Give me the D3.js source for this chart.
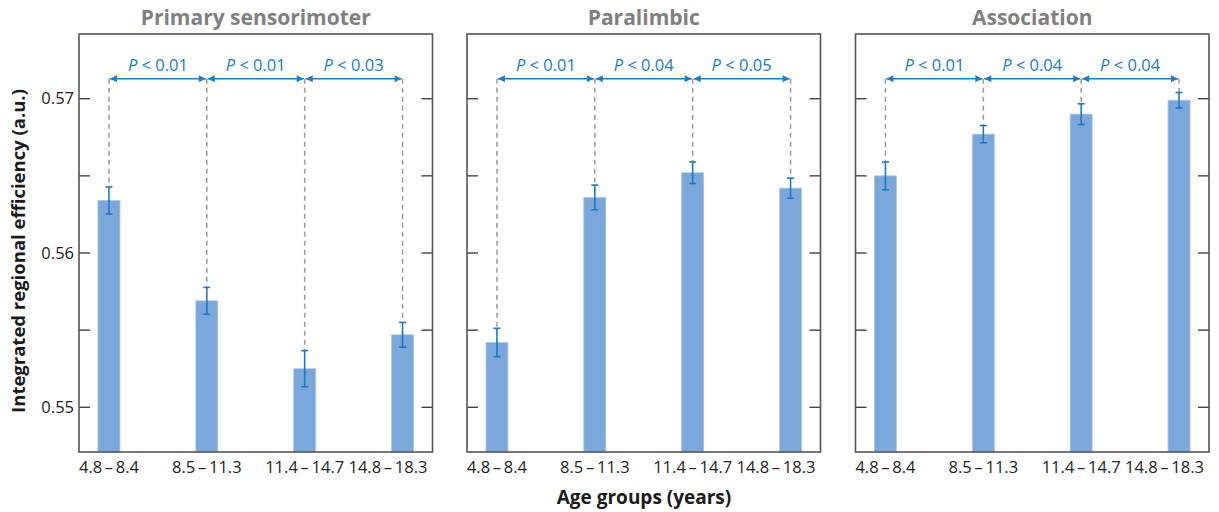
<!DOCTYPE html>
<html><head><meta charset="utf-8">
<script src="https://cdn.jsdelivr.net/npm/d3@7/dist/d3.min.js"></script>
<style>body{margin:0;background:#fff;} text{font-family:"Open Sans","Noto Sans",sans-serif;}</style>
</head><body>
<svg id="chart" width="1219" height="512"></svg>
<script>
const categories = ["4.8\u2009\u2013\u20098.4", "8.5\u2009\u2013\u200911.3", "11.4\u2009\u2013\u200914.7", "14.8\u2009\u2013\u200918.3"];
const panelTitles = ["Primary sensorimoter", "Paralimbic", "Association"];
const primaryValues = [0.5634, 0.5569, 0.5525, 0.5547];
const primaryErrors = [0.00088, 0.00087, 0.00117, 0.0008];
const paralimbicValues = [0.5542, 0.5636, 0.5652, 0.5642];
const paralimbicErrors = [0.00092, 0.0008, 0.0007, 0.00065];
const associationValues = [0.5650, 0.5677, 0.5690, 0.5699];
const associationErrors = [0.0009, 0.00056, 0.00067, 0.0005];
const primaryP = ["P < 0.01", "P < 0.01", "P < 0.03"];
const paralimbicP = ["P < 0.01", "P < 0.04", "P < 0.05"];
const associationP = ["P < 0.01", "P < 0.04", "P < 0.04"];
const yTicks = [0.55, 0.555, 0.56, 0.565, 0.57];
const yTickLabels = ["0.55", "", "0.56", "", "0.57"];
const yLabel = "Integrated regional efficiency (a.u.)";
const xLabel = "Age groups (years)";

const panels = [
  {title: panelTitles[0], values: primaryValues, errors: primaryErrors, p: primaryP},
  {title: panelTitles[1], values: paralimbicValues, errors: paralimbicErrors, p: paralimbicP},
  {title: panelTitles[2], values: associationValues, errors: associationErrors, p: associationP}
];

const svg = d3.select("#chart");
const panelLefts = [79, 467, 855.5];
const pw = 353.5, plotTop = 34, plotBottom = 452;
const y = d3.scaleLinear().domain([0.55, 0.57]).range([407.3, 98.7]);
const barW = 22;
const arrowY = 78.7;
const barColor = "#7ba7da", errColor = "#1f78c2", arrowColor = "#1b7bc6";

const defs = svg.append("defs");
defs.append("marker").attr("id","ah").attr("viewBox","0 0 10 10").attr("refX",10).attr("refY",5)
  .attr("markerWidth",9).attr("markerHeight",7).attr("markerUnits","userSpaceOnUse").attr("orient","auto-start-reverse")
  .append("path").attr("d","M0,0L10,5L0,10Z").attr("fill",arrowColor);

panels.forEach((p, i) => {
  const g = svg.append("g").attr("transform", `translate(${panelLefts[i]},0)`);
  const x = d3.scalePoint().domain(categories).range([0, pw]).padding(0.306);

  g.selectAll("rect.bar").data(p.values).join("rect").attr("class","bar")
    .attr("x", (d, j) => x(categories[j]) - barW/2).attr("width", barW)
    .attr("y", d => y(d)).attr("height", d => plotBottom - y(d))
    .attr("fill", barColor).attr("stroke", "#a9c6ea").attr("stroke-width", 0.8);

  g.selectAll("line.guide").data(p.values).join("line").attr("class","guide")
    .attr("x1", (d, j) => x(categories[j])).attr("x2", (d, j) => x(categories[j]))
    .attr("y1", arrowY).attr("y2", (d, j) => y(d + p.errors[j]))
    .attr("stroke", "#9a9a9a").attr("stroke-width", 1.5).attr("stroke-dasharray", "5,4");

  p.values.forEach((d, j) => {
    const cx = x(categories[j]);
    const eg = g.append("g").attr("stroke", errColor).attr("stroke-width", 1.6);
    eg.append("line").attr("x1", cx).attr("x2", cx).attr("y1", y(d + p.errors[j])).attr("y2", y(d - p.errors[j]));
    eg.append("line").attr("x1", cx - 3.5).attr("x2", cx + 3.5).attr("y1", y(d + p.errors[j])).attr("y2", y(d + p.errors[j]));
    eg.append("line").attr("x1", cx - 3.5).attr("x2", cx + 3.5).attr("y1", y(d - p.errors[j])).attr("y2", y(d - p.errors[j]));
  });

  p.p.forEach((lab, j) => {
    const x1 = x(categories[j]), x2 = x(categories[j+1]);
    g.append("line").attr("x1", x1 + 1).attr("x2", x2 - 1).attr("y1", arrowY).attr("y2", arrowY)
      .attr("stroke", arrowColor).attr("stroke-width", 1.6)
      .attr("marker-start", "url(#ah)").attr("marker-end", "url(#ah)");
    const t = g.append("text").attr("x", (x1 + x2)/2).attr("y", 71).attr("text-anchor", "middle")
      .attr("fill", arrowColor).attr("font-size", 16.5);
    const parts = lab.split(" ");
    t.append("tspan").attr("font-style", "italic").text(parts[0]);
    t.append("tspan").text(" " + parts.slice(1).join(" "));
  });

  g.selectAll("line.tl").data(yTicks).join("line").attr("class","tl")
    .attr("x1", 0).attr("x2", 11).attr("y1", d => y(d)).attr("y2", d => y(d))
    .attr("stroke", "#444").attr("stroke-width", 1.4);
  g.selectAll("line.tr").data(yTicks).join("line").attr("class","tr")
    .attr("x1", pw - 11).attr("x2", pw).attr("y1", d => y(d)).attr("y2", d => y(d))
    .attr("stroke", "#444").attr("stroke-width", 1.4);

  g.append("rect").attr("x", 0).attr("y", plotTop).attr("width", pw).attr("height", plotBottom - plotTop)
    .attr("fill", "none").attr("stroke", "#555").attr("stroke-width", 1.6);

  // x tick labels: centred under bars, last one kept inside the frame
  g.selectAll("text.xl").data(categories).join("text").attr("class","xl")
    .attr("x", (d, j) => j === categories.length - 1 ? pw - 5 : x(d))
    .attr("y", 473)
    .attr("text-anchor", (d, j) => j === categories.length - 1 ? "end" : "middle")
    .attr("font-size", 16.5).attr("fill", "#222").text(d => d);

  g.append("text").attr("x", pw/2).attr("y", 25).attr("text-anchor", "middle")
    .attr("font-size", 21).attr("font-weight", "bold").attr("fill", "#808080").text(p.title);

  if (i === 0) {
    g.selectAll("text.yl").data(yTicks).join("text").attr("class","yl")
      .attr("x", -5).attr("y", d => y(d)).attr("dy", "0.35em").attr("text-anchor", "end")
      .attr("font-size", 16.5).attr("fill", "#222").text((d, k) => yTickLabels[k]);
  }
});

svg.append("text").attr("transform", "translate(25,251) rotate(-90)").attr("text-anchor", "middle")
  .attr("font-size", 18.5).attr("font-weight", "bold").attr("fill", "#1a1a1a").text(yLabel);
svg.append("text").attr("x", 644).attr("y", 504).attr("text-anchor", "middle")
  .attr("font-size", 19).attr("font-weight", "bold").attr("fill", "#1a1a1a").text(xLabel);
</script>
</body></html>
